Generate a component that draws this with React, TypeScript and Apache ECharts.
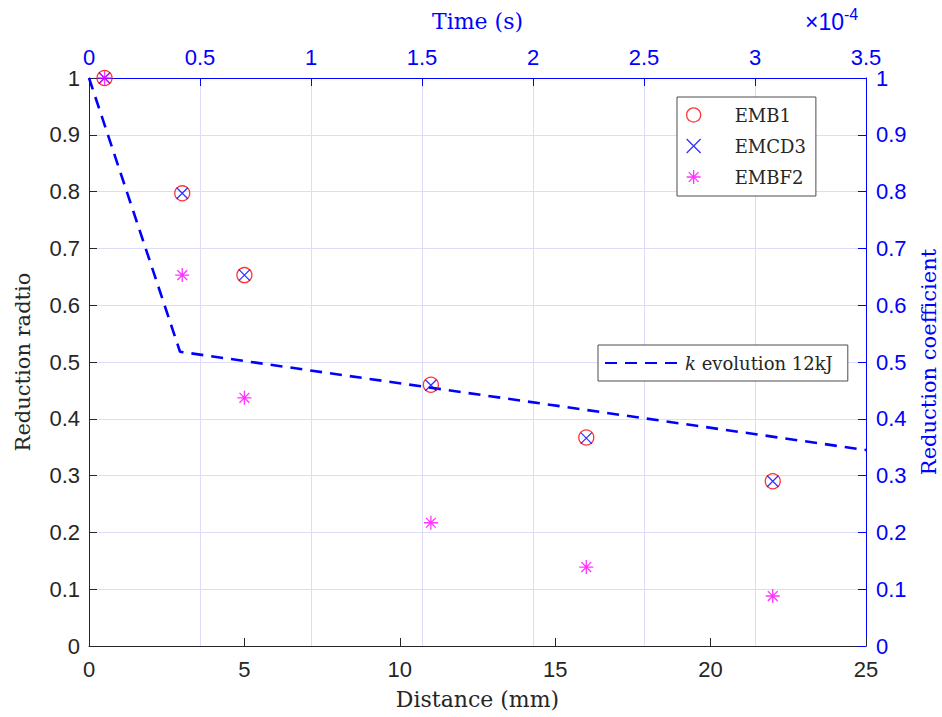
import React, { useEffect, useRef } from "react";
import * as echarts from "echarts";

// Distance (mm) of the measurement points
const distance = [0.5, 3, 5, 11, 16, 22];
// Reduction ratio per method
const emb1 = [1.0, 0.797, 0.653, 0.46, 0.367, 0.29];
const emcd3 = [1.0, 0.797, 0.653, 0.459, 0.366, 0.29];
const embf2 = [1.0, 0.653, 0.437, 0.217, 0.139, 0.088];
// k evolution 12kJ: time (×1e-4 s) and reduction coefficient
const kTime = [0, 0.41, 3.5];
const kValue = [1.0, 0.518, 0.345];

const distanceTicks = { min: 0, max: 25, interval: 5 };
const timeTicks = { min: 0, max: 3.5, interval: 0.5 };
const ratioTicks = { min: 0, max: 1, interval: 0.1 };

const X_PATH = "path://M0,0L10,10M10,0L0,10";
const STAR_PATH = "path://M5,0L5,10M0,5L10,5M1.5,1.5L8.5,8.5M8.5,1.5L1.5,8.5";

const DARK = "#262626";
const BLUE = "#0000ff";
const GRID = "#dcdcfa";
const SANS = "Liberation Sans";
const SERIF = "DejaVu Serif";

export default function App() {
  const ref = useRef<HTMLDivElement>(null);
  useEffect(() => {
    document.body.style.margin = "0";
    const chart = echarts.init(ref.current!, null, { renderer: "svg" });
    const pair = (xs: number[], ys: number[]) => xs.map((x, i) => [x, ys[i]]);
    const tickLabel = (color: string) => ({
      color,
      fontFamily: SANS,
      fontSize: 22,
      showMinLabel: true,
      showMaxLabel: true,
    });
    chart.setOption({
      animation: false,
      backgroundColor: "#ffffff",
      grid: { left: 89, right: 76, top: 78, bottom: 71, outerBoundsMode: "none" },
      xAxis: [
        {
          type: "value",
          position: "bottom",
          ...distanceTicks,
          name: "Distance (mm)",
          nameLocation: "middle",
          nameGap: 42,
          nameTextStyle: { fontFamily: SERIF, fontSize: 22, color: DARK },
          axisLine: { onZero: false, lineStyle: { color: DARK, width: 1 } },
          axisTick: { inside: true, length: 8, lineStyle: { color: DARK } },
          axisLabel: { ...tickLabel(DARK), margin: 12 },
          splitLine: { show: false },
        },
        {
          type: "value",
          position: "top",
          ...timeTicks,
          name: "Time (s)",
          nameLocation: "middle",
          nameGap: 46,
          nameTextStyle: { fontFamily: SERIF, fontSize: 22, color: BLUE },
          axisLine: { onZero: false, lineStyle: { color: BLUE, width: 1 } },
          axisTick: { inside: true, length: 8, lineStyle: { color: BLUE } },
          axisLabel: { ...tickLabel(BLUE), margin: 10 },
          splitLine: { show: true, lineStyle: { color: GRID, width: 1 } },
        },
      ],
      yAxis: [
        {
          type: "value",
          position: "left",
          ...ratioTicks,
          name: "Reduction radtio",
          nameLocation: "middle",
          nameGap: 56,
          nameTextStyle: { fontFamily: SERIF, fontSize: 21, color: DARK },
          axisLine: { show: true, onZero: false, lineStyle: { color: DARK, width: 1 } },
          axisTick: { show: true, inside: true, length: 8, lineStyle: { color: DARK } },
          axisLabel: { ...tickLabel(DARK), margin: 9 },
          splitLine: { show: true, lineStyle: { color: GRID, width: 1 } },
        },
        {
          type: "value",
          position: "right",
          ...ratioTicks,
          name: "Reduction coefficient",
          nameLocation: "middle",
          nameGap: 52,
          nameTextStyle: { fontFamily: SERIF, fontSize: 21, color: BLUE },
          axisLine: { show: true, onZero: false, lineStyle: { color: BLUE, width: 1 } },
          axisTick: { show: true, inside: true, length: 8, lineStyle: { color: BLUE } },
          axisLabel: { ...tickLabel(BLUE), margin: 10 },
          splitLine: { show: false },
        },
      ],
      legend: [
        {
          left: 677,
          top: 97,
          orient: "vertical",
          align: "left",
          padding: [9, 10, 10, 9],
          itemWidth: 72,
          itemHeight: 14,
          itemGap: 13,
          backgroundColor: "#ffffff",
          borderColor: "#4d4d4d",
          borderWidth: 1,
          borderRadius: 0,
          selectedMode: false,
          textStyle: { fontFamily: SERIF, fontSize: 18, color: DARK },
          data: [
            { name: "EMB1", icon: "circle", itemStyle: { color: "rgba(0,0,0,0)", borderColor: "#ff0000", borderWidth: 1.3 } },
            { name: "EMCD3", icon: X_PATH, itemStyle: { color: "rgba(0,0,0,0)", borderColor: BLUE, borderWidth: 1.3 } },
            { name: "EMBF2", icon: STAR_PATH, itemStyle: { color: "rgba(0,0,0,0)", borderColor: "#ff00ff", borderWidth: 1.3 } },
          ],
        },
        {
          left: 598,
          top: 345,
          orient: "vertical",
          align: "left",
          padding: [9, 15, 9, 6],
          itemWidth: 75,
          itemHeight: 14,
          backgroundColor: "#ffffff",
          borderColor: "#4d4d4d",
          borderWidth: 1,
          borderRadius: 0,
          selectedMode: false,
          itemStyle: { color: "rgba(0,0,0,0)", borderWidth: 0, opacity: 0 },
          textStyle: {
            fontFamily: SERIF,
            fontSize: 18,
            color: DARK,
            rich: { i: { fontFamily: SERIF, fontStyle: "italic", fontSize: 18, color: DARK } },
          },
          formatter: () => "{i|k} evolution 12kJ",
          data: [{ name: "k evolution 12kJ" }],
        },
      ],
      graphic: [
        {
          type: "text",
          left: 805,
          top: 6,
          style: {
            text: "{a|×10}{b|-4}",
            rich: {
              a: { fontFamily: SANS, fontSize: 23, fill: BLUE, padding: [8, 0, 0, 0] },
              b: { fontFamily: SANS, fontSize: 16, fill: BLUE, padding: [0, 0, 7, 0] },
            },
          },
        },
      ],
      series: [
        {
          name: "k evolution 12kJ",
          type: "line",
          xAxisIndex: 1,
          yAxisIndex: 1,
          data: pair(kTime, kValue),
          symbol: "none",
          lineStyle: { color: BLUE, width: 2.6, type: [12, 8] },
          itemStyle: { color: "rgba(0,0,0,0)", borderWidth: 0 },
          z: 2,
        },
        {
          name: "EMB1",
          type: "scatter",
          xAxisIndex: 0,
          yAxisIndex: 0,
          data: pair(distance, emb1),
          symbol: "circle",
          symbolSize: 15,
          symbolKeepAspect: true,
          itemStyle: { color: "rgba(0,0,0,0)", borderColor: "#ff0000", borderWidth: 1.3 },
          z: 3,
        },
        {
          name: "EMCD3",
          type: "scatter",
          xAxisIndex: 0,
          yAxisIndex: 0,
          data: pair(distance, emcd3),
          symbol: X_PATH,
          symbolSize: 11,
          symbolKeepAspect: true,
          itemStyle: { color: "rgba(0,0,0,0)", borderColor: BLUE, borderWidth: 1.3 },
          z: 3,
        },
        {
          name: "EMBF2",
          type: "scatter",
          xAxisIndex: 0,
          yAxisIndex: 0,
          data: pair(distance, embf2),
          symbol: STAR_PATH,
          symbolSize: 14,
          symbolKeepAspect: true,
          itemStyle: { color: "rgba(0,0,0,0)", borderColor: "#ff00ff", borderWidth: 1.3 },
          z: 3,
        },
      ],
    });
    return () => chart.dispose();
  }, []);
  return <div ref={ref} style={{ position: "absolute", left: 0, top: 0, width: 942, height: 717 }} />;
}
